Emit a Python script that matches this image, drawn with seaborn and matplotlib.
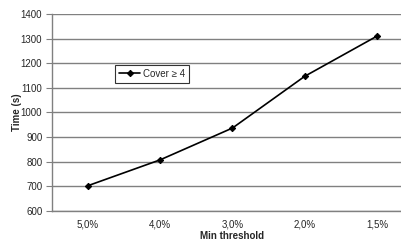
import matplotlib
matplotlib.use('Agg')
import matplotlib.pyplot as plt
import seaborn as sns
import pandas as pd

# Datos
thresholds = ['5,0%', '4,0%', '3,0%', '2,0%', '1,5%']
times = [703, 808, 937, 1147, 1310]
series_name = 'Cover \u2265 4'

df = pd.DataFrame({'threshold': thresholds, 'time': times})

sns.set_style('white')
plt.rcParams['font.family'] = ['Liberation Sans', 'DejaVu Sans']

fig = plt.figure(figsize=(4.01, 2.45), dpi=100)
# el área del gráfico se sale un poco por la derecha, como en la imagen original
ax = fig.add_axes([52 / 401, 34 / 245, 361 / 401, 197 / 245])

sns.lineplot(data=df, x='threshold', y='time', sort=False, color='black',
             marker='D', markersize=3.2, linewidth=1.2, markeredgecolor='black',
             label=series_name, ax=ax)

ax.set_xlim(-0.5, 4.5)
ax.set_ylim(600, 1400)
ax.set_yticks(range(600, 1401, 100))
ax.yaxis.grid(True, color='#808080', linewidth=1)
ax.xaxis.grid(False)
ax.set_axisbelow(True)

for s in ['top', 'right']:
    ax.spines[s].set_visible(False)
for s in ['left', 'bottom']:
    ax.spines[s].set_color('#808080')
    ax.spines[s].set_linewidth(1)

ax.set_xticks(range(len(thresholds)))
ax.set_xticklabels(thresholds)
ax.set_xticks([i + 0.5 for i in range(len(thresholds))], minor=True)
ax.tick_params(axis='x', which='major', length=0, labelsize=7, pad=6)
ax.tick_params(axis='x', which='minor', length=3, color='#808080', direction='out')
ax.tick_params(axis='y', which='major', length=4, color='#808080', direction='out',
               labelsize=7, pad=3, left=True)

ax.set_xlabel('Min threshold', fontsize=7, fontweight='bold')
ax.set_ylabel('Time (s)', fontsize=7, fontweight='bold')
ax.xaxis.set_label_coords(0.5, -(236 - 211) / 197)
ax.yaxis.set_label_coords(-(52 - 17) / 361, 0.5)
ax.xaxis.label.set_va('center')
ax.yaxis.label.set_va('center')

leg = ax.legend(loc='upper left', bbox_to_anchor=(63 / 361, 146 / 197),
                borderaxespad=0, fontsize=7, frameon=True, fancybox=False,
                handlelength=2.2, handletextpad=0.3, borderpad=0.4)
leg.get_frame().set_edgecolor('black')
leg.get_frame().set_linewidth(0.8)

fig.savefig('out.png', dpi=100)
